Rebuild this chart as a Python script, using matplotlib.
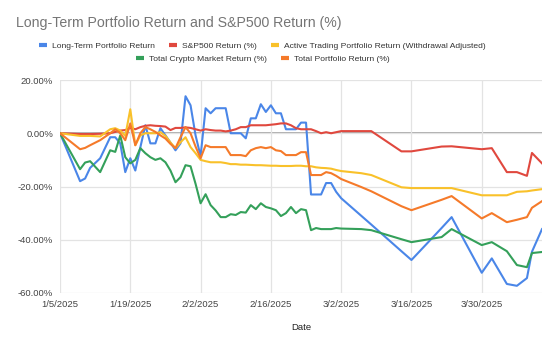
import pandas as pd
import matplotlib
matplotlib.use("Agg")
import matplotlib.pyplot as plt
from matplotlib.lines import Line2D

plt.rcParams['font.family'] = ['Liberation Sans', 'DejaVu Sans']

# days after 1/5/2025 for each data point
day_offsets = [0, 4, 5, 6, 8, 10, 11, 12, 13, 14, 15, 16, 17, 18, 19, 20, 21, 22, 23, 24,
               25, 26, 27, 28, 29, 30, 31, 32, 33, 34, 35, 36, 37, 38, 39, 40, 41, 42, 43, 44,
               45, 46, 47, 48, 49, 50, 51, 52, 53, 54, 55, 56, 60, 62, 68, 70, 76, 78, 84, 86,
               89, 91, 93, 94, 96]

long_term = [0, -18, -17, -13, -9.4, -1.5, -1.5, -3.8, -14.6, -9.4, -14, -5.3, 3, -3.8, -3.8, 1.9, -0.8, -3.5, -6.4, -3.8,
             13.9, 10.5, -0.8, -8.6, 9.4, 7.5, 9.4, 9.4, 9.4, 0, 0, 0, -1.9, 5.6, 5.6, 10.9, 8, 10.5, 7.5, 7.5,
             1.5, 1.5, 1.5, 4, 4, -23, -23, -23, -18.7, -18.7, -22, -24.4, -31, -34.3, -44.3, -47.6, -35.6, -31.5, -52.4, -47,
             -56.6, -57.3, -54.4, -44.5, -36]

sp500 = [0, -0.3, -0.3, -0.3, -0.2, 0, 0.5, 1, 1.2, 2, 1.5, 2.3, 2.8, 3, 2.8, 2.7, 2.5, 1.2, 2, 2,
         2.2, 2, 1.5, 1, 1.5, 1.2, 1, 1, 0.7, 1, 1.5, 2.3, 2.3, 3, 3, 3, 3, 3.2, 3.4, 3.7,
         3.7, 3, 1.9, 1.5, 1.5, 1.5, 0.8, 0, 0.4, 0, 0.4, 0.8, 0.8, 0.8, -6.8, -6.8, -5, -4.9, -6, -5.6,
         -14.6, -14.6, -16, -7.4, -11.3]

active_trading = [0, -1, -1, -1, -1.2, 1.5, 1.9, 1, -1, 9, -4.5, -0.8, 0, 0, 0, 0.4, -1, -3.5, -5.6, -3.4,
                  -1.5, -5.2, -7.5, -10, -10.5, -10.9, -10.9, -10.9, -11.2, -11.6, -11.6, -11.8, -11.8, -11.9, -12, -12, -12.1, -12.2, -12.2, -12.3,
                  -12.3, -12.3, -12.2, -12.2, -12.4, -12.4, -12.8, -13, -13.1, -13.3, -13.8, -14.2, -15, -15.7, -20.3, -20.6, -20.6, -20.6, -23.3, -23.3,
                  -23.3, -22, -21.8, -21.5, -21]

crypto = [0, -13.5, -11, -10.5, -14.6, -6.4, -7, -0.8, -9, -11.3, -10, -5.6, -7.5, -9, -10, -9.4, -10.9, -14, -18.4, -16.5,
          -12, -12.4, -19, -26.3, -22.9, -27, -29, -31.5, -31.5, -30.4, -30.7, -29.6, -29.8, -27, -28.5, -26.3, -27.7, -28.2, -28.9, -31.1,
          -30, -27.7, -30, -28.5, -28.9, -36.4, -35.6, -36, -36, -36, -35.6, -35.8, -36, -36.4, -39.8, -40.9, -39, -36, -42, -40.9,
          -44.3, -49.5, -50.3, -45, -44.6]

total = [0, -6, -5.5, -4.5, -2.6, 0, 1.5, 0, -2.6, 3.7, -4.5, 0, 2.3, 1.5, 0.5, -0.8, -2, -4, -5.6, -1.5,
         2.3, 0, -5, -9.4, -4.5, -5.2, -5.2, -5.2, -5.2, -8.2, -8.2, -8.2, -8.6, -6.4, -5.6, -5.2, -5.6, -5.2, -6.4, -6.7,
         -8.2, -8.2, -8.2, -7.1, -7.1, -15.7, -15.7, -15.7, -14.6, -15, -16, -17.2, -20.2, -21.8, -27.4, -28.9, -25, -23.6, -32, -30,
         -33.4, -32.5, -31.5, -28, -25.5]

series_names = ['Long-Term Portfolio Return', 'S&P500 Return (%)',
                'Active Trading Portfolio Return (Withdrawal Adjusted)',
                'Total Crypto Market Return (%)', 'Total Portfolio Return (%)']
series_colors = ['#4a86e8', '#e0483e', '#f9c12a', '#34a05a', '#f57a2a']

tick_dates = ['2025-01-05', '2025-01-19', '2025-02-02', '2025-02-16', '2025-03-02', '2025-03-16', '2025-03-30']
tick_labels = ['1/5/2025', '1/19/2025', '2/2/2025', '2/16/2025', '3/2/2025', '3/16/2025', '3/30/2025']
y_ticks = [20, 0, -20, -40, -60]

start = pd.Timestamp('2025-01-05')
dates = start + pd.to_timedelta(day_offsets, unit='D')
df = pd.DataFrame({'date': dates, 'lt': long_term, 'sp': sp500, 'at': active_trading,
                   'cr': crypto, 'tot': total})

fig = plt.figure(figsize=(5.55, 3.43), dpi=100)
ax = fig.add_axes([60 / 555, 1 - 293 / 343, (542 - 60) / 555, (293 - 80) / 343])

ax.axhline(0, color='#9e9e9e', lw=1.2, zorder=1)
for col, color in zip(['lt', 'sp', 'at', 'cr', 'tot'], series_colors):
    ax.plot(df['date'], df[col], color=color, lw=1.5, zorder=3)

ax.set_ylim(-60, 20)
ax.set_xlim(start, start + pd.Timedelta(days=96))
ax.set_yticks(y_ticks)
ax.set_yticklabels([f'{v:.2f}%' for v in y_ticks])
ax.set_xticks(pd.to_datetime(tick_dates))
ax.set_xticklabels(tick_labels)
ax.grid(True, color='#e3e3e3', lw=0.9, zorder=0)
for s in ax.spines.values():
    s.set_visible(False)
ax.tick_params(length=0, labelsize=6.8, colors='#444444', pad=5)
ax.set_xlabel('Date', fontsize=6.8, color='#222222', labelpad=10)

fig.text(16 / 555, 1 - 23 / 343, 'Long-Term Portfolio Return and S&P500 Return (%)',
         fontsize=10.2, color='#757575', va='center', ha='left')

handles = [Line2D([0], [0], color=c, lw=3, solid_capstyle='butt') for c in series_colors]
kw = dict(frameon=False, fontsize=6.1, handlelength=0.9, handletextpad=0.6,
          columnspacing=1.7, loc='center', labelcolor='#333333')
fig.legend(handles[:3], series_names[:3], ncol=3, bbox_to_anchor=(0.473, 1 - 46.5 / 343), **kw)
fig.legend(handles[3:], series_names[3:], ncol=2, bbox_to_anchor=(0.474, 1 - 59.5 / 343), **kw)

fig.savefig('out.png', dpi=100)
